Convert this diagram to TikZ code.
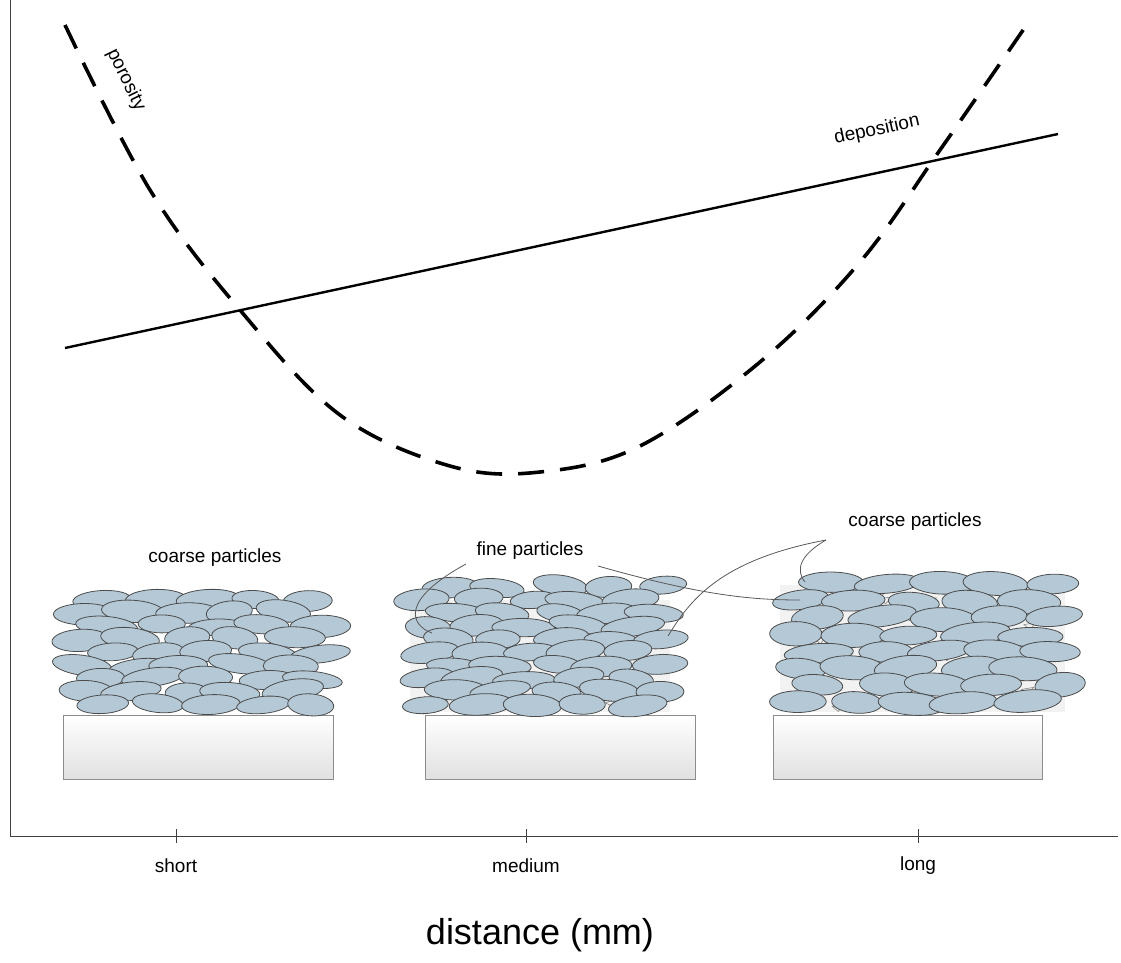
\documentclass[tikz,border=0pt]{standalone}
\usepackage{fontspec}
\setmainfont{Liberation Sans}
\begin{document}
\begin{tikzpicture}[x=1pt,y=-1pt,
  axis/.style={line width=1pt,black!75},
  particle/.style={fill={rgb,255:red,180;green,200;blue,214},draw=black!70,line width=0.8pt},
  fine/.style={fill=black!6,draw=black!50,line width=0.5pt},
  substrate/.style={draw=black!45,line width=0.8pt,top color=white,bottom color=black!12},
  leader/.style={draw=black!65,line width=0.8pt},
  lbl/.style={font=\fontsize{19}{22}\selectfont}]
\useasboundingbox (0,0) rectangle (1121,963);
\newcommand\pstack[7]{% x0 y0 rows cols dx dy rx
  \foreach \r in {1,...,#3}{
    \foreach \c in {0,...,#4}{
      \pgfmathsetmacro\px{#1+\c*#5+mod(\r,2)*#5/2+rand*7}
      \pgfmathsetmacro\py{#2-(#3-\r)*#6+rand*2}
      \pgfmathsetmacro\rx{#7+rand*5}
      \pgfmathsetmacro\ry{#7*0.36+rand*1.5}
      \pgfmathsetmacro\ang{rand*8}
      \draw[particle] (\px,\py) ellipse [x radius=\rx, y radius=\ry, rotate=\ang];
    }}}
\pgfmathsetseed{7}
% axes
\draw[axis] (10,0) -- (10,836) -- (1118,836);
\foreach \n/\x/\t in {ts/176/short,tm/526/medium,tl/918/long}{
  \draw[axis,line width=0.8pt] (\x,829) -- (\x,843);
  \node[lbl] (\n) at (\x,866) {\t};}
\node[font=\fontsize{36}{40}\selectfont] (ax) at (540,935) {distance (mm)};
% deposition
\coordinate (d1) at (65,348); \coordinate (d2) at (1058,134);
\draw[line width=2.4pt] (d1) -- (d2);
\node[lbl,rotate=12.2] (dl) at (877,130) {deposition};
% porosity
\draw[line width=3.6pt,dash pattern=on 26pt off 16pt] plot[smooth,tension=0.6] coordinates
 {(65,25) (150,190) (240,310) (340,415) (450,466) (540,472) (640,446) (760,362) (860,262) (940,150) (1030,20)};
\node[lbl,rotate=-64] (pl) at (126,80) {porosity};
% substrates
\draw[substrate] (63,715) rectangle (333,779);
\draw[substrate] (425,715) rectangle (695,779);
\draw[substrate] (773,715) rectangle (1042,779);
% fine particle backgrounds
\fill[black!5] (410,600) rectangle (670,712);
\fill[black!5] (780,585) rectangle (1065,712);
\foreach \i in {1,...,40}{
  \pgfmathsetmacro\fx{410+rnd*250}\pgfmathsetmacro\fy{600+rnd*110}
  \draw[fine] (\fx,\fy) -- ++(10,-3) -- ++(-4,6) -- cycle;
  \pgfmathsetmacro\gx{785+rnd*270}\pgfmathsetmacro\gy{585+rnd*125}
  \draw[fine] (\gx,\gy) -- ++(12,-2) -- ++(-6,7) -- cycle;}
% stacks
\pstack{80}{705}{9}{4}{52}{13.2}{27}
\pstack{425}{705}{10}{4}{52}{13.2}{27}
\pstack{795}{703}{8}{4}{58}{17}{30}
% labels
\node[lbl] (cp1) at (215,558) {coarse particles};
\node[lbl] (fp) at (530,551) {fine particles};
\node[lbl] (cp2) at (915,522) {coarse particles};
\draw[leader] (466,564) .. controls (400,600) and (410,625) .. (432,633);
\draw[leader] (598,566) .. controls (700,595) and (750,600) .. (800,600);
\draw[leader] (826,540) .. controls (720,560) and (690,600) .. (668,636);
\draw[leader] (826,540) .. controls (800,555) and (795,570) .. (805,582);
\end{tikzpicture}
\end{document}
